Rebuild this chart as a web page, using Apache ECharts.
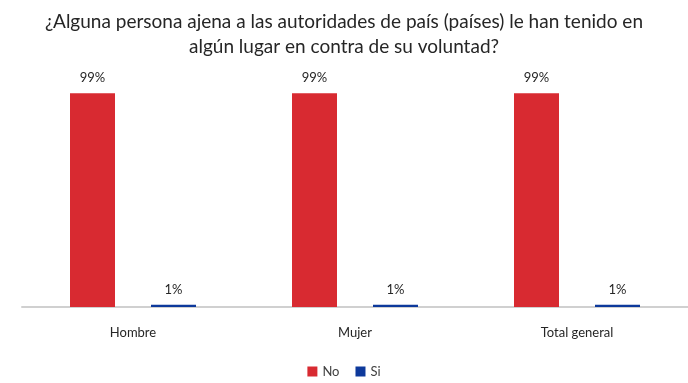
<!DOCTYPE html>
<html>
<head>
<meta charset="utf-8">
<script src="https://cdn.jsdelivr.net/npm/echarts@6/dist/echarts.min.js"></script>
<style>
html,body{margin:0;padding:0;background:#fff;}
#chart{width:688px;height:383px;}
</style>
</head>
<body>
<div id="chart"></div>
<script>
const categories = ['Hombre', 'Mujer', 'Total general'];
const noValues = [99, 99, 99];
const siValues = [1, 1, 1];
const titleText = '¿Alguna persona ajena a las autoridades de país (países) le han tenido en\nalgún lugar en contra de su voluntad?';

const FONT = 'Lato, "Open Sans", sans-serif';
const chart = echarts.init(document.getElementById('chart'), null, {renderer: 'canvas'});

const labelStyle = {
  show: true,
  position: 'top',
  distance: 9,
  formatter: p => p.value + '%',
  color: '#262626',
  fontFamily: FONT,
  fontSize: 13
};

chart.setOption({
  animation: false,
  backgroundColor: '#fff',
  title: {
    text: titleText,
    left: 'center',
    top: 4,
    textStyle: {
      fontFamily: FONT,
      fontSize: 19,
      fontWeight: 'normal',
      color: '#262626',
      lineHeight: 25
    }
  },
  legend: {
    bottom: 0,
    left: 'center',
    itemWidth: 10,
    itemHeight: 10,
    itemGap: 16,
    icon: 'rect',
    textStyle: {fontFamily: FONT, fontSize: 13, color: '#404040'},
    data: ['No', 'Si']
  },
  grid: {left: 22, right: -2, top: 91, bottom: 76, containLabel: false},
  xAxis: {
    type: 'category',
    data: categories,
    axisLine: {show: true, lineStyle: {color: '#d0d0d0', width: 2}},
    axisTick: {show: false},
    axisLabel: {color: '#262626', fontFamily: FONT, fontSize: 13, margin: 19}
  },
  yAxis: {
    type: 'value',
    min: 0,
    max: 100,
    show: false,
    splitLine: {show: false}
  },
  series: [
    {
      name: 'No',
      type: 'bar',
      data: noValues,
      barWidth: 45,
      barGap: '80%',
      itemStyle: {color: '#D82A31'},
      label: labelStyle
    },
    {
      name: 'Si',
      type: 'bar',
      data: siValues,
      barWidth: 45,
      itemStyle: {color: '#0D399B'},
      label: labelStyle
    }
  ]
});
</script>
</body>
</html>
